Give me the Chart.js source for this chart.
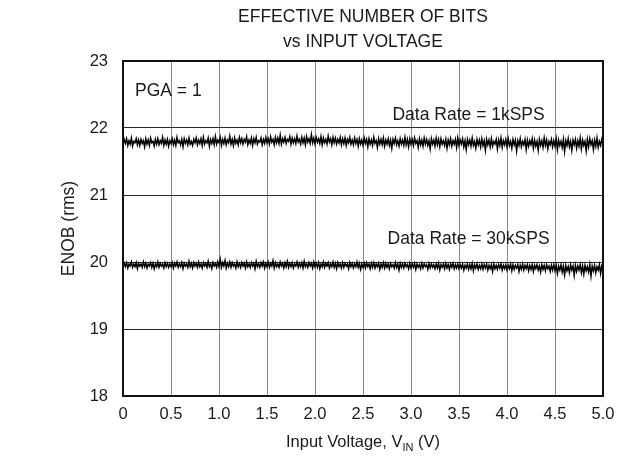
<!DOCTYPE html>
<html>
<head>
<meta charset="utf-8">
<script src="https://cdn.jsdelivr.net/npm/chart.js@4/dist/chart.umd.min.js"></script>
<style>
  html, body { margin: 0; padding: 0; background: #fff; }
  #wrap { width: 634px; height: 468px; }
</style>
</head>
<body>
<div id="wrap"><canvas id="enobChart" width="634" height="468"></canvas></div>
<script>
// ENOB vs input voltage, PGA = 1

const titleLines = ["EFFECTIVE NUMBER OF BITS", "vs INPUT VOLTAGE"];
const xTickLabels = ["0", "0.5", "1.0", "1.5", "2.0", "2.5", "3.0", "3.5", "4.0", "4.5", "5.0"];
const yTickLabels = ["18", "19", "20", "21", "22", "23"];

// input voltage sweep, 0 V to 5 V in 12.5 mV steps
const vinStep = 0.0125;

const enob1k = [
  21.75,21.83,21.77,21.84,21.74,21.81,21.76,21.85,21.73,21.80,21.78,21.84,21.75,21.82,21.74,21.83,21.77,21.81,21.72,21.84,
  21.76,21.82,21.74,21.85,21.78,21.80,21.73,21.83,21.76,21.84,21.75,21.81,21.77,21.86,21.74,21.82,21.76,21.83,21.73,21.81,
  21.77,21.84,21.75,21.82,21.74,21.86,21.78,21.81,21.75,21.83,21.72,21.84,21.77,21.82,21.75,21.85,21.76,21.80,21.74,21.83,
  21.78,21.85,21.75,21.82,21.77,21.84,21.74,21.86,21.76,21.81,21.78,21.85,21.73,21.83,21.77,21.84,21.75,21.87,21.76,21.82,
  21.78,21.86,21.74,21.83,21.77,21.85,21.75,21.82,21.78,21.88,21.76,21.83,21.74,21.85,21.77,21.82,21.75,21.86,21.78,21.84,
  21.76,21.83,21.79,21.87,21.75,21.82,21.77,21.85,21.74,21.84,21.78,21.86,21.76,21.81,21.79,21.85,21.75,21.83,21.77,21.86,
  21.78,21.84,21.76,21.87,21.79,21.83,21.75,21.86,21.78,21.85,21.77,21.89,21.76,21.84,21.79,21.86,21.77,21.83,21.80,21.87,
  21.76,21.85,21.78,21.84,21.77,21.88,21.79,21.83,21.76,21.86,21.78,21.85,21.75,21.87,21.79,21.84,21.77,21.90,21.78,21.85,
  21.76,21.86,21.79,21.84,21.77,21.87,21.75,21.85,21.78,21.83,21.76,21.88,21.79,21.84,21.75,21.86,21.78,21.85,21.76,21.83,
  21.78,21.86,21.75,21.84,21.77,21.85,21.74,21.83,21.78,21.86,21.76,21.82,21.75,21.85,21.77,21.83,21.73,21.84,21.76,21.82,
  21.74,21.85,21.77,21.83,21.72,21.84,21.76,21.82,21.74,21.86,21.77,21.81,21.71,21.84,21.76,21.83,21.75,21.85,21.73,21.82,
  21.76,21.84,21.74,21.82,21.70,21.83,21.77,21.85,21.75,21.81,21.73,21.84,21.76,21.82,21.74,21.86,21.75,21.83,21.72,21.84,
  21.76,21.83,21.74,21.85,21.77,21.81,21.71,21.84,21.75,21.82,21.73,21.85,21.76,21.83,21.74,21.81,21.69,21.84,21.76,21.82,
  21.73,21.85,21.75,21.83,21.72,21.84,21.76,21.81,21.74,21.83,21.70,21.82,21.75,21.84,21.73,21.81,21.76,21.83,21.71,21.85,
  21.74,21.82,21.76,21.84,21.72,21.81,21.68,21.83,21.75,21.82,21.73,21.85,21.74,21.80,21.70,21.83,21.75,21.82,21.72,21.84,
  21.74,21.81,21.67,21.83,21.75,21.82,21.72,21.84,21.73,21.80,21.76,21.83,21.69,21.82,21.74,21.85,21.71,21.81,21.75,21.83,
  21.72,21.84,21.74,21.80,21.70,21.83,21.75,21.82,21.66,21.81,21.74,21.84,21.72,21.80,21.75,21.83,21.68,21.82,21.73,21.81,
  21.75,21.84,21.70,21.82,21.73,21.80,21.67,21.83,21.74,21.81,21.71,21.85,21.74,21.82,21.69,21.80,21.75,21.83,21.72,21.81,
  21.73,21.84,21.68,21.82,21.74,21.80,21.71,21.83,21.65,21.81,21.74,21.84,21.72,21.80,21.67,21.82,21.75,21.83,21.70,21.81,
  21.73,21.85,21.69,21.82,21.74,21.80,21.66,21.83,21.72,21.84,21.75,21.81,21.68,21.82,21.73,21.85,21.71,21.80,21.74,21.83,
  21.76
];

const enob30k = [
  19.92,19.98,19.93,19.99,19.91,19.97,19.94,20.00,19.92,19.97,19.93,19.99,19.90,19.98,19.94,19.97,19.92,20.00,19.93,19.98,
  19.91,19.97,19.94,19.99,19.92,19.98,19.90,19.97,19.93,20.00,19.92,19.98,19.94,19.97,19.91,19.99,19.93,19.98,19.92,19.97,
  19.93,19.99,19.91,19.98,19.94,20.00,19.92,19.97,19.93,19.99,19.90,19.98,19.94,19.97,19.92,20.01,19.93,19.98,19.91,19.99,
  19.94,19.98,19.92,20.00,19.93,19.97,19.91,19.99,19.94,19.98,19.92,20.01,19.93,19.97,19.90,19.99,19.94,19.98,19.92,20.00,
  19.93,20.04,19.92,19.99,19.94,20.02,19.91,19.98,19.93,20.00,19.92,19.99,19.94,19.97,19.91,20.00,19.93,19.98,19.92,19.99,
  19.94,19.98,19.91,20.00,19.93,19.97,19.92,19.99,19.94,19.98,19.90,20.01,19.93,19.97,19.92,19.99,19.94,20.00,19.91,19.98,
  19.93,20.00,19.92,19.98,19.94,20.02,19.91,19.99,19.93,19.97,19.92,20.00,19.94,19.98,19.91,19.99,19.93,20.01,19.92,19.98,
  19.93,19.99,19.91,19.97,19.94,20.00,19.92,19.98,19.93,19.99,19.91,20.01,19.93,19.97,19.92,19.99,19.94,19.98,19.91,20.00,
  19.93,19.98,19.92,19.99,19.90,19.97,19.93,20.00,19.92,19.98,19.94,19.99,19.91,19.97,19.93,20.00,19.92,19.98,19.90,19.99,
  19.93,19.97,19.91,19.99,19.92,19.98,19.94,19.97,19.90,19.99,19.93,19.98,19.91,19.97,19.93,20.00,19.92,19.98,19.89,19.97,
  19.92,19.98,19.91,19.99,19.93,19.97,19.90,19.98,19.92,19.99,19.91,19.97,19.93,19.98,19.89,19.97,19.92,19.99,19.91,19.98,
  19.92,19.97,19.90,19.98,19.93,19.96,19.91,19.99,19.92,19.97,19.88,19.98,19.92,19.97,19.91,19.98,19.93,19.96,19.90,19.98,
  19.91,19.97,19.92,19.98,19.89,19.97,19.92,19.96,19.90,19.98,19.91,19.97,19.93,19.96,19.89,19.98,19.91,19.97,19.92,19.96,
  19.90,19.97,19.91,19.98,19.88,19.96,19.92,19.97,19.90,19.98,19.91,19.96,19.89,19.97,19.92,19.98,19.90,19.96,19.91,19.97,
  19.90,19.96,19.91,19.97,19.88,19.95,19.91,19.97,19.89,19.96,19.90,19.98,19.87,19.96,19.91,19.97,19.89,19.95,19.90,19.97,
  19.89,19.96,19.91,19.97,19.88,19.95,19.90,19.96,19.86,19.97,19.90,19.95,19.89,19.96,19.91,19.97,19.88,19.95,19.90,19.96,
  19.88,19.95,19.90,19.97,19.87,19.96,19.89,19.95,19.91,19.96,19.86,19.95,19.89,19.97,19.88,19.95,19.90,19.96,19.87,19.95,
  19.89,19.96,19.86,19.95,19.90,19.96,19.88,19.94,19.85,19.96,19.89,19.95,19.87,19.96,19.90,19.94,19.86,19.95,19.88,19.96,
  19.87,19.95,19.83,19.94,19.88,19.96,19.85,19.94,19.81,19.95,19.87,19.93,19.84,19.96,19.88,19.94,19.80,19.95,19.86,19.94,
  19.88,19.96,19.84,19.94,19.82,19.95,19.87,19.93,19.85,19.96,19.79,19.94,19.87,19.95,19.84,19.93,19.88,19.96,19.83,19.94,
  19.89
];

const FONT = "'Liberation Sans', Arial, Helvetica, sans-serif";
const TEXT = "#1a1a1a";

function toPoints(values) {
  return values.map((v, i) => ({ x: +(i * vinStep).toFixed(4), y: v }));
}

// titles, notes, axis titles and the heavy frame
const decorations = {
  id: "decorations",
  afterDatasetsDraw(chart) {
    const { ctx, chartArea: a } = chart;
    ctx.save();
    ctx.strokeStyle = "#111";
    ctx.lineWidth = 2;
    ctx.strokeRect(a.left, a.top, a.right - a.left, a.bottom - a.top);
    ctx.restore();
  },
  afterDraw(chart) {
    const { ctx, chartArea: a, scales } = chart;
    const cx = (a.left + a.right) / 2;
    ctx.save();
    ctx.fillStyle = TEXT;
    ctx.textBaseline = "middle";

    ctx.font = "17.5px " + FONT;
    ctx.textAlign = "center";
    ctx.fillText(titleLines[0], cx, 17);
    ctx.fillText(titleLines[1], cx, 42);

    ctx.font = "17.5px " + FONT;
    ctx.textAlign = "left";
    ctx.fillText("PGA = 1", a.left + 12, scales.y.getPixelForValue(22.55));
    ctx.textAlign = "center";
    ctx.fillText("Data Rate = 1kSPS", scales.x.getPixelForValue(3.6), scales.y.getPixelForValue(22.19));
    ctx.fillText("Data Rate = 30kSPS", scales.x.getPixelForValue(3.6), scales.y.getPixelForValue(20.34));

    // x axis title with subscript
    const y0 = 442;
    const p1 = "Input Voltage, V", sub = "IN", p2 = " (V)";
    ctx.font = "16.5px " + FONT;
    const w1 = ctx.measureText(p1).width, w3 = ctx.measureText(p2).width;
    ctx.font = "11px " + FONT;
    const w2 = ctx.measureText(sub).width;
    const x = cx - (w1 + w2 + w3) / 2;
    ctx.textAlign = "left";
    ctx.font = "16.5px " + FONT;
    ctx.fillText(p1, x, y0);
    ctx.font = "11px " + FONT;
    ctx.fillText(sub, x + w1, y0 + 6);
    ctx.font = "16.5px " + FONT;
    ctx.fillText(p2, x + w1 + w2, y0);

    // y axis title
    ctx.translate(69, (a.top + a.bottom) / 2);
    ctx.rotate(-Math.PI / 2);
    ctx.textAlign = "center";
    ctx.font = "17.5px " + FONT;
    ctx.fillText("ENOB (rms)", 0, 0);
    ctx.restore();
  }
};

new Chart(document.getElementById("enobChart"), {
  type: "line",
  data: {
    datasets: [
      { label: "1kSPS", data: toPoints(enob1k), borderColor: "#000", borderWidth: 1.5, pointRadius: 0, tension: 0 },
      { label: "30kSPS", data: toPoints(enob30k), borderColor: "#000", borderWidth: 1.5, pointRadius: 0, tension: 0 }
    ]
  },
  options: {
    responsive: false,
    animation: false,
    events: [],
    layout: { padding: { left: 0, top: 61, right: 31, bottom: 0 } },
    plugins: { legend: { display: false }, tooltip: { enabled: false }, title: { display: false } },
    scales: {
      x: {
        type: "linear",
        min: 0,
        max: 5,
        afterFit: (s) => { s.height = 72; },
        grid: { color: "#8a8a8a", lineWidth: 1, drawTicks: false },
        border: { display: false },
        ticks: {
          stepSize: 0.5,
          padding: 9,
          color: TEXT,
          font: { family: FONT, size: 16.5 },
          callback: (v, i) => xTickLabels[i]
        }
      },
      y: {
        min: 18,
        max: 23,
        afterFit: (s) => { s.width = 123; },
        grid: { color: "#2a2a2a", lineWidth: 1, drawTicks: false },
        border: { display: false },
        ticks: {
          stepSize: 1,
          padding: 15,
          color: TEXT,
          font: { family: FONT, size: 16.5 },
          callback: (v, i) => yTickLabels[i]
        }
      }
    }
  },
  plugins: [decorations]
});
</script>
</body>
</html>
